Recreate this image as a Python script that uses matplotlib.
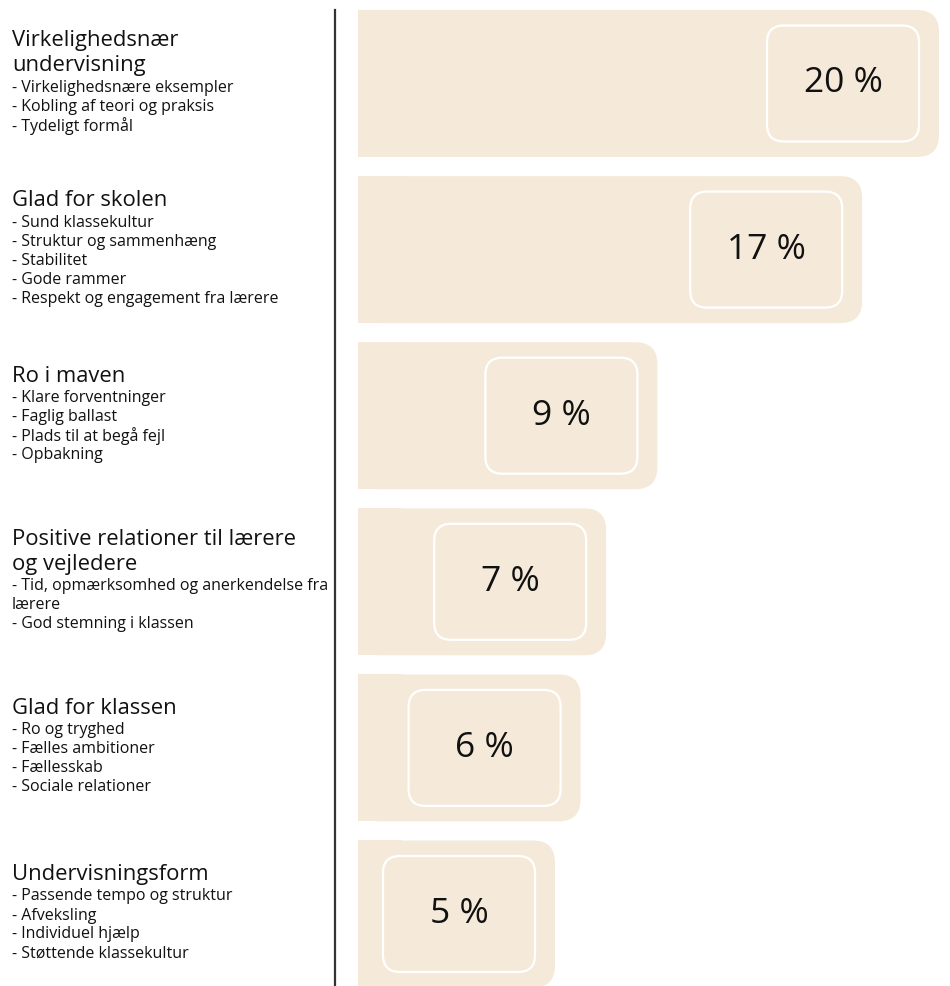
import matplotlib
matplotlib.use("Agg")
import matplotlib.pyplot as plt
from matplotlib.patches import FancyBboxPatch, Rectangle

# data
titles = [
    "Virkelighedsnær\nundervisning",
    "Glad for skolen",
    "Ro i maven",
    "Positive relationer til lærere\nog vejledere",
    "Glad for klassen",
    "Undervisningsform",
]
details = [
    ["- Virkelighedsnære eksempler", "- Kobling af teori og praksis", "- Tydeligt formål"],
    ["- Sund klassekultur", "- Struktur og sammenhæng", "- Stabilitet", "- Gode rammer",
     "- Respekt og engagement fra lærere"],
    ["- Klare forventninger", "- Faglig ballast", "- Plads til at begå fejl", "- Opbakning"],
    ["- Tid, opmærksomhed og anerkendelse fra", "lærere", "- God stemning i klassen"],
    ["- Ro og tryghed", "- Fælles ambitioner", "- Fællesskab", "- Sociale relationer"],
    ["- Passende tempo og struktur", "- Afveksling", "- Individuel hjælp", "- Støttende klassekultur"],
]
values = [20, 17, 9, 7, 6, 5]

# layout (pixels)
W, H = 950, 986
PX_PER_UNIT = 25.6
ZERO_PX = 427
LINE_PX = 335
BAR_START_PX = 358
ROW_PX = 166.1
FIRST_ROW_PX = 83.5

BEIGE = "#F5EAD9"
INK = "#111111"
FONT = "Open Sans"

fig = plt.figure(figsize=(W / 100, H / 100), dpi=100)

y_top = -FIRST_ROW_PX / ROW_PX
y_bot = (H - FIRST_ROW_PX) / ROW_PX

ax = fig.add_axes([LINE_PX / W, 0, 1 - LINE_PX / W, 1])
ax.set_xlim((LINE_PX - ZERO_PX) / PX_PER_UNIT, (W - ZERO_PX) / PX_PER_UNIT)
ax.set_ylim(y_bot, y_top)
ax.axis("off")

px_x = 1 / PX_PER_UNIT
px_y = 1 / ROW_PX
aspect = px_y / px_x
bar_left = (BAR_START_PX - ZERO_PX) / PX_PER_UNIT
bar_h = 147 * px_y
r_bar = 22 * px_x
box_w, box_h = 152 * px_x, 116 * px_y

for i, v in enumerate(values):
    # bar with rounded right end, square left end
    ax.add_patch(FancyBboxPatch((bar_left, i - bar_h / 2), v - bar_left, bar_h,
                                boxstyle=f"round,pad=0,rounding_size={r_bar}",
                                mutation_aspect=aspect, fc=BEIGE, ec="none"))
    ax.add_patch(Rectangle((bar_left, i - bar_h / 2), 2 * r_bar, bar_h, fc=BEIGE, ec="none"))
    # white label box
    bx = v - 20 * px_x - box_w
    ax.add_patch(FancyBboxPatch((bx, i - box_h / 2), box_w, box_h,
                                boxstyle=f"round,pad=0,rounding_size={17 * px_x}",
                                mutation_aspect=aspect, fc="none", ec="white", lw=1.6))
    ax.text(bx + box_w / 2, i, f"{v} %", ha="center", va="center",
            fontsize=25.5, color=INK, family=FONT)

# vertical divider
ax.plot([0, 0], [0, 1 - 10 / H], transform=ax.transAxes, color="#333333",
        lw=1.6, clip_on=False)

# left text column
tax = fig.add_axes([0, 0, LINE_PX / W, 1])
tax.set_xlim(0, 1)
tax.set_ylim(y_bot, y_top)
tax.axis("off")
tx = 12 / LINE_PX

for i, (t, subs) in enumerate(zip(titles, details)):
    tlines = t.split("\n")
    span = (len(tlines) - 1) * 25 + 22 + (len(subs) - 1) * 19
    y = i - span / 2 * px_y
    for line in tlines:
        tax.text(tx, y, line, ha="left", va="center", fontsize=15.8, color=INK, family=FONT)
        y += 25 * px_y
    y += (22 - 25) * px_y
    for s in subs:
        tax.text(tx, y, s, ha="left", va="center", fontsize=11.5, color=INK, family=FONT)
        y += 19 * px_y

fig.savefig("out.png", dpi=100)
